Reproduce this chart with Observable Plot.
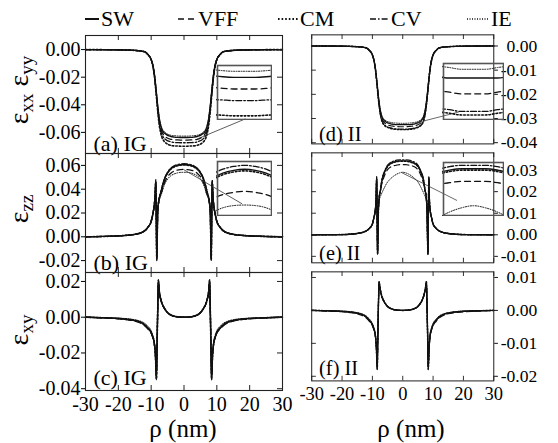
<!DOCTYPE html>
<html><head><meta charset="utf-8">
<script src="https://cdn.jsdelivr.net/npm/d3@7"></script>
<script src="https://cdn.jsdelivr.net/npm/@observablehq/plot@0.6"></script>
<style>
body{margin:0;background:#fff;}
#root{position:relative;width:558px;height:443px;overflow:hidden;font-family:"Liberation Serif",Tinos,"Times New Roman",Times,"DejaVu Serif","Noto Serif",serif;color:#000;background:#fff;}
.abs{position:absolute;}
.ytitle{position:absolute;transform:translate(-50%,-50%) rotate(-90deg);white-space:nowrap;font-size:28px;line-height:1;}
.ytitle sub{font-size:19px;vertical-align:baseline;position:relative;top:0.28em;}
.xtitle{position:absolute;transform:translate(-50%,-50%);white-space:nowrap;font-size:25px;line-height:1;}
.leg{position:absolute;display:flex;align-items:center;font-size:22px;line-height:1;white-space:nowrap;}
.leg svg{display:block;margin-right:2px;}
</style></head><body><div id="root"></div><script>
// ---------------- data ----------------
const models = ["SW","VFF","CM","CV","IE"];
const xTicks = [-30,-20,-10,0,10,20,30];

// epsilon_xx (panels a, d)
const rhoXX = [-30,-20,-15,-12,-11,-10,-9.5,-9,-8.5,-8,-7.5,-7,-6,-4,-3,-2,-1,0,1,2,3,4,6,7,7.5,8,8.5,9,9.5,10,11,12,15,20,30];
const xxIG_SW  = [0,-0.0002,-0.0006,-0.0015,-0.0035,-0.007,-0.011,-0.018,-0.029,-0.041,-0.0505,-0.056,-0.0605,-0.063,-0.0634,-0.0636,-0.0637,-0.0637,-0.0637,-0.0636,-0.0634,-0.063,-0.0605,-0.056,-0.0505,-0.041,-0.029,-0.018,-0.011,-0.007,-0.0035,-0.0015,-0.0006,-0.0002,0];
const xxIG_IE  = [0,-0.0002,-0.0006,-0.0015,-0.0035,-0.007,-0.011,-0.0178,-0.0286,-0.0403,-0.0496,-0.055,-0.0595,-0.0621,-0.0624,-0.0626,-0.0627,-0.0627,-0.0627,-0.0626,-0.0624,-0.0621,-0.0595,-0.055,-0.0496,-0.0403,-0.0286,-0.0178,-0.011,-0.007,-0.0035,-0.0015,-0.0006,-0.0002,0];
const xxIG_VFF = [0,-0.0002,-0.0006,-0.0015,-0.0035,-0.0072,-0.0113,-0.0185,-0.0298,-0.0422,-0.052,-0.0577,-0.0624,-0.065,-0.0653,-0.0655,-0.0656,-0.0656,-0.0656,-0.0655,-0.0653,-0.065,-0.0624,-0.0577,-0.052,-0.0422,-0.0298,-0.0185,-0.0113,-0.0072,-0.0035,-0.0015,-0.0006,-0.0002,0];
const xxIG_CV  = [0,-0.0002,-0.0006,-0.0015,-0.0036,-0.0073,-0.0116,-0.019,-0.0306,-0.0433,-0.0535,-0.0594,-0.0643,-0.0669,-0.0673,-0.0674,-0.0675,-0.0675,-0.0675,-0.0674,-0.0673,-0.0669,-0.0643,-0.0594,-0.0535,-0.0433,-0.0306,-0.019,-0.0116,-0.0073,-0.0036,-0.0015,-0.0006,-0.0002,0];
const xxIG_CM  = [0,-0.0002,-0.0006,-0.0016,-0.0037,-0.0075,-0.0119,-0.0196,-0.0316,-0.0448,-0.0553,-0.0614,-0.0666,-0.0694,-0.0698,-0.0699,-0.07,-0.07,-0.07,-0.0699,-0.0698,-0.0694,-0.0666,-0.0614,-0.0553,-0.0448,-0.0316,-0.0196,-0.0119,-0.0075,-0.0037,-0.0016,-0.0006,-0.0002,0];
const xxII_SW  = [0,-0.0001,-0.0003,-0.0008,-0.0018,-0.0036,-0.0057,-0.0093,-0.0149,-0.0211,-0.0259,-0.0288,-0.031,-0.0322,-0.0324,-0.0325,-0.0325,-0.0325,-0.0325,-0.0325,-0.0324,-0.0322,-0.031,-0.0288,-0.0259,-0.0211,-0.0149,-0.0093,-0.0057,-0.0036,-0.0018,-0.0008,-0.0003,-0.0001,0];
const xxII_IE  = [0,-0.0001,-0.0003,-0.0008,-0.0018,-0.0036,-0.0057,-0.0092,-0.0147,-0.0207,-0.0254,-0.0283,-0.0305,-0.0316,-0.0318,-0.0319,-0.032,-0.032,-0.032,-0.0319,-0.0318,-0.0316,-0.0305,-0.0283,-0.0254,-0.0207,-0.0147,-0.0092,-0.0057,-0.0036,-0.0018,-0.0008,-0.0003,-0.0001,0];
const xxII_VFF = [0,-0.0001,-0.0003,-0.0008,-0.0018,-0.0037,-0.0058,-0.0095,-0.0153,-0.0216,-0.0266,-0.0296,-0.0318,-0.033,-0.0332,-0.0333,-0.0334,-0.0334,-0.0334,-0.0333,-0.0332,-0.033,-0.0318,-0.0296,-0.0266,-0.0216,-0.0153,-0.0095,-0.0058,-0.0037,-0.0018,-0.0008,-0.0003,-0.0001,0];
const xxII_CV  = [0,-0.0001,-0.0003,-0.0008,-0.0019,-0.0037,-0.0059,-0.0097,-0.0156,-0.0221,-0.0272,-0.0303,-0.0327,-0.0339,-0.0342,-0.0343,-0.0344,-0.0344,-0.0344,-0.0343,-0.0342,-0.0339,-0.0327,-0.0303,-0.0272,-0.0221,-0.0156,-0.0097,-0.0059,-0.0037,-0.0019,-0.0008,-0.0003,-0.0001,0];
const xxII_CM  = [0,-0.0001,-0.0003,-0.0008,-0.0019,-0.0038,-0.006,-0.0098,-0.0158,-0.0223,-0.0274,-0.0305,-0.0329,-0.0341,-0.0344,-0.0345,-0.0346,-0.0346,-0.0346,-0.0345,-0.0344,-0.0341,-0.0329,-0.0305,-0.0274,-0.0223,-0.0158,-0.0098,-0.006,-0.0038,-0.0019,-0.0008,-0.0003,-0.0001,0];

// epsilon_zz (panels b, e)
const rhoZZ = [-30,-20,-15,-12,-11,-10,-9.5,-9,-8.8,-8.6,-8.45,-8.3,-8.15,-8,-7.7,-7.3,-7,-6,-5,-4,-3,-2,-1,0,1,2,3,4,5,6,7,7.3,7.7,8,8.15,8.3,8.45,8.6,8.8,9,9.5,10,11,12,15,20,30];
const zzIG_SW  = [0,0.0008,0.002,0.005,0.008,0.013,0.019,0.028,0.035,0.047,0.02,-0.019,0,0.022,0.03,0.035,0.038,0.048,0.0538,0.0572,0.059,0.06,0.0605,0.0607,0.0605,0.06,0.059,0.0572,0.0538,0.048,0.038,0.035,0.03,0.022,0,-0.019,0.02,0.047,0.035,0.028,0.019,0.013,0.008,0.005,0.002,0.0008,0];
const zzIG_CV  = [0,0.0008,0.002,0.005,0.008,0.013,0.019,0.028,0.035,0.048,0.02,-0.02,0,0.022,0.03,0.035,0.0385,0.0485,0.0544,0.0578,0.0597,0.0607,0.0612,0.0614,0.0612,0.0607,0.0597,0.0578,0.0544,0.0485,0.0385,0.035,0.03,0.022,0,-0.02,0.02,0.048,0.035,0.028,0.019,0.013,0.008,0.005,0.002,0.0008,0];
const zzIG_CM  = [0,0.0008,0.002,0.005,0.008,0.013,0.019,0.028,0.035,0.046,0.02,-0.019,0,0.022,0.03,0.035,0.038,0.048,0.0536,0.0569,0.0587,0.0597,0.0602,0.0604,0.0602,0.0597,0.0587,0.0569,0.0536,0.048,0.038,0.035,0.03,0.022,0,-0.019,0.02,0.046,0.035,0.028,0.019,0.013,0.008,0.005,0.002,0.0008,0];
const zzIG_VFF = [0,0.0008,0.002,0.005,0.008,0.013,0.019,0.028,0.034,0.045,0.019,-0.018,0,0.021,0.029,0.034,0.036,0.045,0.0505,0.0535,0.0552,0.0561,0.0565,0.0567,0.0565,0.0561,0.0552,0.0535,0.0505,0.045,0.036,0.034,0.029,0.021,0,-0.018,0.019,0.045,0.034,0.028,0.019,0.013,0.008,0.005,0.002,0.0008,0];
const zzIG_IE  = [0,0.0008,0.002,0.005,0.008,0.013,0.019,0.027,0.033,0.044,0.019,-0.017,0,0.02,0.028,0.033,0.035,0.0435,0.0485,0.0513,0.0528,0.0537,0.0541,0.0542,0.0541,0.0537,0.0528,0.0513,0.0485,0.0435,0.035,0.033,0.028,0.02,0,-0.017,0.019,0.044,0.033,0.027,0.019,0.013,0.008,0.005,0.002,0.0008,0];
const zzII_SW  = [0,0.0001,0.0006,0.0018,0.003,0.005,0.008,0.012,0.016,0.027,0.01,-0.009,0,0.012,0.018,0.021,0.024,0.029,0.0318,0.0331,0.0337,0.0341,0.0343,0.0343,0.0343,0.0341,0.0337,0.0331,0.0318,0.029,0.024,0.021,0.018,0.012,0,-0.009,0.01,0.027,0.016,0.012,0.008,0.005,0.003,0.0018,0.0006,0.0001,0];
const zzII_CV  = [0,0.0001,0.0006,0.0018,0.003,0.005,0.008,0.012,0.016,0.027,0.01,-0.009,0,0.012,0.018,0.021,0.0245,0.0295,0.0323,0.0336,0.0342,0.0346,0.0348,0.0348,0.0348,0.0346,0.0342,0.0336,0.0323,0.0295,0.0245,0.021,0.018,0.012,0,-0.009,0.01,0.027,0.016,0.012,0.008,0.005,0.003,0.0018,0.0006,0.0001,0];
const zzII_CM  = [0,0.0001,0.0006,0.0018,0.003,0.005,0.008,0.012,0.016,0.026,0.01,-0.009,0,0.012,0.018,0.021,0.024,0.029,0.0316,0.0329,0.0335,0.0339,0.0341,0.0341,0.0341,0.0339,0.0335,0.0329,0.0316,0.029,0.024,0.021,0.018,0.012,0,-0.009,0.01,0.026,0.016,0.012,0.008,0.005,0.003,0.0018,0.0006,0.0001,0];
const zzII_VFF = [0,0.0001,0.0006,0.0018,0.003,0.005,0.008,0.012,0.016,0.026,0.01,-0.0085,0,0.012,0.018,0.021,0.023,0.0275,0.0302,0.0314,0.032,0.0323,0.0325,0.0325,0.0325,0.0323,0.032,0.0314,0.0302,0.0275,0.023,0.021,0.018,0.012,0,-0.0085,0.01,0.026,0.016,0.012,0.008,0.005,0.003,0.0018,0.0006,0.0001,0];
const zzII_IE  = [0,0.0001,0.0006,0.0018,0.003,0.005,0.008,0.012,0.015,0.025,0.01,-0.008,0,0.011,0.016,0.018,0.019,0.022,0.0245,0.026,0.0272,0.0281,0.0287,0.029,0.0287,0.0281,0.0272,0.026,0.0245,0.022,0.019,0.018,0.016,0.011,0,-0.008,0.01,0.025,0.015,0.012,0.008,0.005,0.003,0.0018,0.0006,0.0001,0];

// epsilon_xy (panels c, f)
const rhoXY = [-30,-25,-20,-17,-15,-13,-12,-11,-10,-9.5,-9,-8.7,-8.4,-8.2,-8,-7.8,-7.5,-7,-6.5,-6,-5,-4,-2,0,2,4,5,6,6.5,7,7.5,7.8,8,8.2,8.4,8.7,9,9.5,10,11,12,13,15,17,20,25,30];
const xyIG_SW  = [0,-0.0003,-0.0007,-0.0012,-0.0018,-0.003,-0.0042,-0.006,-0.0085,-0.011,-0.015,-0.021,-0.034,-0.015,0.005,0.02,0.014,0.0095,0.0068,0.005,0.0025,0.0012,0.0002,0,0.0002,0.0012,0.0025,0.005,0.0068,0.0095,0.014,0.02,0.005,-0.015,-0.034,-0.021,-0.015,-0.011,-0.0085,-0.006,-0.0042,-0.003,-0.0018,-0.0012,-0.0007,-0.0003,0];
const xyIG_VFF = [0,-0.0004,-0.0009,-0.0015,-0.0022,-0.0035,-0.0048,-0.0066,-0.009,-0.0115,-0.0155,-0.021,-0.033,-0.015,0.004,0.019,0.0135,0.0092,0.0066,0.0049,0.0025,0.0012,0.0002,0,0.0002,0.0012,0.0025,0.0049,0.0066,0.0092,0.0135,0.019,0.004,-0.015,-0.033,-0.021,-0.0155,-0.0115,-0.009,-0.0066,-0.0048,-0.0035,-0.0022,-0.0015,-0.0009,-0.0004,0];
const xyIG_CM  = [0,-0.0003,-0.0007,-0.0012,-0.0018,-0.003,-0.0042,-0.006,-0.0086,-0.0112,-0.0152,-0.0215,-0.0345,-0.016,0.005,0.0205,0.0142,0.0096,0.0069,0.0051,0.0026,0.0012,0.0002,0,0.0002,0.0012,0.0026,0.0051,0.0069,0.0096,0.0142,0.0205,0.005,-0.016,-0.0345,-0.0215,-0.0152,-0.0112,-0.0086,-0.006,-0.0042,-0.003,-0.0018,-0.0012,-0.0007,-0.0003,0];
const xyIG_CV  = [0,-0.0003,-0.0008,-0.0013,-0.002,-0.0032,-0.0045,-0.0063,-0.0088,-0.0114,-0.0155,-0.022,-0.035,-0.016,0.006,0.021,0.0145,0.0098,0.007,0.0052,0.0026,0.0013,0.0002,0,0.0002,0.0013,0.0026,0.0052,0.007,0.0098,0.0145,0.021,0.006,-0.016,-0.035,-0.022,-0.0155,-0.0114,-0.0088,-0.0063,-0.0045,-0.0032,-0.002,-0.0013,-0.0008,-0.0003,0];
const xyIG_IE  = [0,-0.0002,-0.0005,-0.0009,-0.0014,-0.0024,-0.0034,-0.005,-0.0075,-0.01,-0.014,-0.02,-0.032,-0.014,0.004,0.018,0.013,0.009,0.0065,0.0048,0.0024,0.0011,0.0002,0,0.0002,0.0011,0.0024,0.0048,0.0065,0.009,0.013,0.018,0.004,-0.014,-0.032,-0.02,-0.014,-0.01,-0.0075,-0.005,-0.0034,-0.0024,-0.0014,-0.0009,-0.0005,-0.0002,0];
const xyII_SW  = [0,-0.0001,-0.0003,-0.0005,-0.0008,-0.0014,-0.002,-0.003,-0.0043,-0.0056,-0.0077,-0.011,-0.0175,-0.0075,0.002,0.0085,0.0068,0.0046,0.0033,0.0024,0.0012,0.0006,0.0001,0,0.0001,0.0006,0.0012,0.0024,0.0033,0.0046,0.0068,0.0085,0.002,-0.0075,-0.0175,-0.011,-0.0077,-0.0056,-0.0043,-0.003,-0.002,-0.0014,-0.0008,-0.0005,-0.0003,-0.0001,0];
const xyII_VFF = [0,-0.0002,-0.0004,-0.0007,-0.001,-0.0017,-0.0023,-0.0033,-0.0046,-0.0059,-0.008,-0.011,-0.017,-0.0075,0.0018,0.0082,0.0066,0.0045,0.0032,0.0024,0.0012,0.0006,0.0001,0,0.0001,0.0006,0.0012,0.0024,0.0032,0.0045,0.0066,0.0082,0.0018,-0.0075,-0.017,-0.011,-0.008,-0.0059,-0.0046,-0.0033,-0.0023,-0.0017,-0.001,-0.0007,-0.0004,-0.0002,0];
const xyII_CM  = [0,-0.0001,-0.0003,-0.0005,-0.0008,-0.0014,-0.002,-0.003,-0.0044,-0.0057,-0.0078,-0.0112,-0.0178,-0.0077,0.002,0.0087,0.0069,0.0047,0.0034,0.0025,0.0012,0.0006,0.0001,0,0.0001,0.0006,0.0012,0.0025,0.0034,0.0047,0.0069,0.0087,0.002,-0.0077,-0.0178,-0.0112,-0.0078,-0.0057,-0.0044,-0.003,-0.002,-0.0014,-0.0008,-0.0005,-0.0003,-0.0001,0];
const xyII_CV  = [0,-0.0001,-0.0003,-0.0006,-0.0009,-0.0015,-0.0021,-0.0031,-0.0045,-0.0058,-0.0079,-0.0113,-0.018,-0.0078,0.0022,0.0088,0.007,0.0048,0.0034,0.0025,0.0013,0.0006,0.0001,0,0.0001,0.0006,0.0013,0.0025,0.0034,0.0048,0.007,0.0088,0.0022,-0.0078,-0.018,-0.0113,-0.0079,-0.0058,-0.0045,-0.0031,-0.0021,-0.0015,-0.0009,-0.0006,-0.0003,-0.0001,0];
const xyII_IE  = [0,-0.0001,-0.0002,-0.0004,-0.0007,-0.0012,-0.0017,-0.0026,-0.0039,-0.0052,-0.0072,-0.0105,-0.0165,-0.007,0.0018,0.008,0.0065,0.0044,0.0032,0.0023,0.0011,0.0005,0.0001,0,0.0001,0.0005,0.0011,0.0023,0.0032,0.0044,0.0065,0.008,0.0018,-0.007,-0.0165,-0.0105,-0.0072,-0.0052,-0.0039,-0.0026,-0.0017,-0.0012,-0.0007,-0.0004,-0.0002,-0.0001,0];

// tick values
const yTicksA = [0,-0.02,-0.04,-0.06];
const yTicksB = [0.06,0.04,0.02,0,-0.02];
const yTicksC = [0.02,0,-0.02,-0.04];
const yTicksD = [0,-0.01,-0.02,-0.03,-0.04];
const yTicksE = [0.03,0.02,0.01,0,-0.01];
const yTicksF = [0.01,0,-0.01,-0.02];
const panelLabels = ["(a) IG","(b) IG","(c) IG","(d) II","(e) II","(f) II"];

// inset connector annotations [from (rho, value)] -> [to (rho, value)]
const linkA = [[4.1,-0.0647],[18.7,-0.0502]];
const linkB = [[0,0.0563],[17.7,0.0277]];
const linkD = [[4.2,-0.0319],[18.5,-0.0273]];
const linkE = [[-0.3,0.0288],[17.9,0.0159]];

// ---------------- layout & style ----------------
const styles = {
  SW:{dash:undefined,w:1.4},
  VFF:{dash:"6,4",w:1.3},
  CM:{dash:"1.6,2",w:1.6},
  CV:{dash:"6,2,1.6,2",w:1.3},
  IE:{dash:"1,1.5",w:1}
};
const colLeft = [85, 312], rowTop = [35,153,272], rowH = [118,119,118], W = 197;
const fmt2 = d => d.toFixed(2);
const FONT = '"Liberation Serif",Tinos,"Times New Roman",Times,"DejaVu Serif","Noto Serif",serif';

const panels = [
  {col:0,row:0,rho:rhoXX,series:{SW:xxIG_SW,VFF:xxIG_VFF,CM:xxIG_CM,CV:xxIG_CV,IE:xxIG_IE},yDomain:[-0.0753,0.0102],yTicks:yTicksA,label:panelLabels[0],link:linkA,
   inset:{left:217,top:65,w:56,h:56,yDomain:[-0.0706,-0.06175]}},
  {col:0,row:1,rho:rhoZZ,series:{SW:zzIG_SW,VFF:zzIG_VFF,CM:zzIG_CM,CV:zzIG_CV,IE:zzIG_IE},yDomain:[-0.030,0.070],yTicks:yTicksB,label:panelLabels[1],link:linkB,
   inset:{left:217,top:161,w:56,h:56,yDomain:[0.0523,0.0621]}},
  {col:0,row:2,rho:rhoXY,series:{SW:xyIG_SW,VFF:xyIG_VFF,CM:xyIG_CM,CV:xyIG_CV,IE:xyIG_IE},yDomain:[-0.041,0.025],yTicks:yTicksC,label:panelLabels[2]},
  {col:1,row:0,rho:rhoXX,series:{SW:xxII_SW,VFF:xxII_VFF,CM:xxII_CM,CV:xxII_CV,IE:xxII_IE},yDomain:[-0.0405,0.0046],yTicks:yTicksD,label:panelLabels[3],link:linkD,
   inset:{left:443,top:63,w:62,h:58,yDomain:[-0.03486,-0.03167]}},
  {col:1,row:1,rho:rhoZZ,series:{SW:zzII_SW,VFF:zzII_VFF,CM:zzII_CM,CV:zzII_CV,IE:zzII_IE},yDomain:[-0.013,0.038],yTicks:yTicksE,label:panelLabels[4],link:linkE,
   inset:{left:443,top:162,w:62,h:55,yDomain:[0.0276,0.0352]}},
  {col:1,row:2,rho:rhoXY,series:{SW:xyII_SW,VFF:xyII_VFF,CM:xyII_CM,CV:xyII_CV,IE:xyII_IE},yDomain:[-0.0214,0.0117],yTicks:yTicksF,label:panelLabels[5]}
];

const root = document.getElementById("root");
function place(el, left, top, w, h, clip) {
  const d = document.createElement("div");
  d.className = "abs";
  d.style.left = left + "px"; d.style.top = top + "px";
  if (w) { d.style.width = w + "px"; d.style.height = h + "px"; }
  if (clip) d.style.overflow = "hidden";
  d.appendChild(el); root.appendChild(d); return d;
}
function rows(p, filt) {
  return models.flatMap(m => p.rho.map((r,i) => ({m, r, v: p.series[m][i]})).filter(d => !filt || filt(d)));
}
function lineMarks(data) {
  return models.map(m => Plot.line(data.filter(d => d.m === m), {
    x:"r", y:"v", curve:"monotone-x", stroke:"#111",
    strokeWidth: styles[m].w, strokeDasharray: styles[m].dash
  }));
}

for (const p of panels) {
  const left = p.col === 0, bottom = p.row === 2;
  const h = rowH[p.row];
  const mL = left ? 70 : 10, mR = left ? 10 : 70, mT = 8, mB = bottom ? 50 : 8;
  const marks = [
    ...lineMarks(rows(p)),
    Plot.frame({stroke:"#222", strokeWidth:1.1}),
    Plot.tickX(xTicks, {x:d=>d, insetTop:h-5, stroke:"#222"}),
    Plot.tickX(xTicks, {x:d=>d, insetBottom:h-5, stroke:"#222"}),
    Plot.tickY(p.yTicks, left ? {y:d=>d, insetLeft:W-5, stroke:"#222"} : {y:d=>d, insetRight:W-5, stroke:"#222"}),
    Plot.axisY({anchor: left ? "left" : "right", ticks:p.yTicks, tickSize:4, tickFormat: left ? fmt2 : (() => ""), tickPadding:1, label:null}),
    Plot.text([p.label], {frameAnchor:"bottom-left", dx:8, dy: bottom ? -6 : -3, textAnchor:"start", lineAnchor:"bottom", fontSize:22})
  ];
  if (!left) marks.push(Plot.text(p.yTicks, {y:d=>d, text:fmt2, frameAnchor:"right", dx:47, textAnchor:"end", fontSize:19}));
  if (p.link) marks.push(Plot.link([p.link], {x1:d=>d[0][0], y1:d=>d[0][1], x2:d=>d[1][0], y2:d=>d[1][1], stroke:"#333", strokeWidth:0.8}));
  if (bottom) marks.push(Plot.axisX({ticks:xTicks, tickSize:0, tickPadding:6, tickFormat:d=>String(d), label:null}));
  const svg = Plot.plot({
    width: mL + W + mR, height: mT + h + mB,
    marginLeft:mL, marginRight:mR, marginTop:mT, marginBottom:mB,
    x: bottom ? {domain:[-30,30]} : {domain:[-30,30], axis:null},
    y: {domain:p.yDomain},
    style:{background:"transparent", overflow:"visible", fontFamily:FONT, fontSize:"20px", color:"#000"},
    marks
  });
  place(svg, colLeft[p.col] - mL, rowTop[p.row] - mT);
}

// insets (zoomed views of the centre of the well)
for (const p of panels) {
  if (!p.inset) continue;
  const ins = p.inset;
  const svg = Plot.plot({
    width: ins.w, height: ins.h, margin:1,
    x:{domain:[-2.5,2.5], axis:null},
    y:{domain:ins.yDomain, axis:null},
    style:{background:"transparent"},
    marks:[
      ...lineMarks(rows(p, d => Math.abs(d.r) <= 4)),
      Plot.frame({stroke:"#555", strokeWidth:1.6})
    ]
  });
  place(svg, ins.left - 1, ins.top - 1, ins.w, ins.h, true);
}

// axis titles
function addHTML(cls, html, x, y) {
  const d = document.createElement("div");
  d.className = cls; d.innerHTML = html;
  d.style.left = x + "px"; d.style.top = y + "px";
  root.appendChild(d);
}
addHTML("ytitle", "ε<sub>xx</sub> ε<sub>yy</sub>", 19, 90);
addHTML("ytitle", "ε<sub>zz</sub>", 19, 209);
addHTML("ytitle", "ε<sub>xy</sub>", 19, 330);
addHTML("xtitle", "ρ (nm)", 183, 428);
addHTML("xtitle", "ρ (nm)", 411, 428);

// legend
const legendPos = [{x:85,w:14},{x:178,w:18},{x:278,w:20},{x:370,w:19},{x:467,w:22}];
models.forEach((m, i) => {
  const d = document.createElement("div");
  d.className = "leg";
  d.style.left = legendPos[i].x + "px"; d.style.top = "8px";
  const w = legendPos[i].w;
  const ns = "http://www.w3.org/2000/svg";
  const s = document.createElementNS(ns, "svg");
  s.setAttribute("width", w); s.setAttribute("height", 10);
  const l = document.createElementNS(ns, "line");
  l.setAttribute("x1", 0); l.setAttribute("x2", w); l.setAttribute("y1", 5); l.setAttribute("y2", 5);
  l.setAttribute("stroke", "#111"); l.setAttribute("stroke-width", m === "SW" ? 2 : styles[m].w + 0.3);
  if (styles[m].dash) l.setAttribute("stroke-dasharray", styles[m].dash);
  s.appendChild(l);
  d.appendChild(s);
  const t = document.createElement("span"); t.textContent = m;
  d.appendChild(t);
  root.appendChild(d);
});
</script></body></html>
